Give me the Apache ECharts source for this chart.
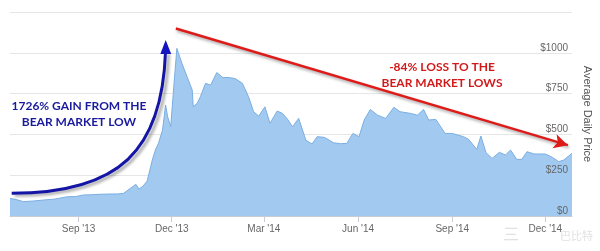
<!DOCTYPE html>
<html>
<head>
<meta charset="utf-8">
<script src="https://cdn.jsdelivr.net/npm/echarts@6/dist/echarts.min.js"></script>
<style>
html,body{margin:0;padding:0;background:#fff;}
#chart{width:600px;height:251px;}
</style>
</head>
<body>
<div id="chart"></div>
<script>
// ---- data ----
const dates = [
  '2013-06-26','2013-07-02','2013-07-09','2013-07-19','2013-07-29','2013-08-09','2013-08-21','2013-08-29',
  '2013-09-06','2013-09-14','2013-09-22','2013-10-02','2013-10-09','2013-10-15','2013-10-22','2013-10-27',
  '2013-10-30','2013-11-03','2013-11-07','2013-11-12','2013-11-15','2013-11-18','2013-11-22','2013-11-25',
  '2013-11-27','2013-11-30','2013-12-03','2013-12-06','2013-12-11','2013-12-16','2013-12-21','2013-12-22',
  '2013-12-26','2013-12-29','2014-01-03','2014-01-08','2014-01-14','2014-01-20','2014-01-25','2014-02-01',
  '2014-02-08','2014-02-14','2014-02-19','2014-02-24','2014-03-02','2014-03-07','2014-03-14','2014-03-19',
  '2014-03-24','2014-03-29','2014-04-04','2014-04-11','2014-04-17','2014-04-22','2014-04-29','2014-05-08',
  '2014-05-15','2014-05-21','2014-05-27','2014-06-02','2014-06-07','2014-06-13','2014-06-20','2014-06-28',
  '2014-07-06','2014-07-12','2014-07-22','2014-07-29','2014-08-04','2014-08-09','2014-08-16','2014-08-25',
  '2014-09-01','2014-09-12','2014-09-17','2014-09-25','2014-09-29','2014-10-04','2014-10-10','2014-10-17',
  '2014-10-23','2014-10-28','2014-11-03','2014-11-08','2014-11-13','2014-11-20','2014-12-01','2014-12-08',
  '2014-12-14','2014-12-19','2014-12-27'
];
const prices = [
  108,101,88,92,98,104,118,119,
  129,130,133,135,135,139,171,194,
  165,184,214,343,404,445,527,680,
  608,547,792,1027,935,853,772,669,
  692,731,813,802,879,848,849,842,
  813,731,639,612,669,568,643,629,
  594,547,598,465,441,486,482,449,
  443,445,506,486,588,653,618,598,
  666,639,629,618,653,588,592,506,
  506,486,470,408,490,388,353,390,
  374,404,347,347,394,380,380,359,
  333,343,384
];
const xTickDates = ['2013-09-01','2013-12-01','2014-03-01','2014-06-01','2014-09-01','2014-12-01'];
const xTickLabels = ["Sep '13","Dec '13","Mar '14","Jun '14","Sep '14","Dec '14"];
const yTickValues = [0,250,500,750,1000];
const yTickLabels = ['$0','$250','$500','$750','$1000'];
const axisTitle = 'Average Daily Price';
const gainText = ['1726% GAIN FROM THE','BEAR MARKET LOW'];
const lossText = ['-84% LOSS TO THE','BEAR MARKET LOWS'];
const lossLineStart = ['2013-12-05', 1149];
const lossLineEnd = ['2014-12-23', 434];
const axisMin = '2013-06-26';
const axisMax = '2014-12-27';

function ts(s){const p=s.split('-').map(Number);return Date.UTC(p[0],p[1]-1,p[2]);}
const seriesData = dates.map((d,i)=>[ts(d),prices[i]]);
const tickTs = xTickDates.map(ts);

const yBase = {type:'value',position:'right',min:0,max:1250,interval:250,
  axisLine:{show:false},axisTick:{show:false}};

const chart = echarts.init(document.getElementById('chart'), null, {renderer:'canvas'});
chart.setOption({
  animation:false,
  backgroundColor:'#ffffff',
  grid:{left:10,right:28,top:12,bottom:35,outerBoundsMode:'none'},
  xAxis:{
    type:'value',
    min:ts(axisMin), max:ts(axisMax),
    splitLine:{show:false},
    axisLine:{show:true,lineStyle:{color:'#c8ccd4',width:1}},
    axisTick:{show:true,length:6,lineStyle:{color:'#c8ccd4'},customValues:tickTs},
    axisLabel:{
      customValues:tickTs,
      color:'#666',fontSize:10,fontFamily:'Liberation Sans, Arial',margin:8,
      formatter:function(v){const i=tickTs.indexOf(v);return i>=0?xTickLabels[i]:'';}
    }
  },
  yAxis:[
    Object.assign({}, yBase, {
      name:axisTitle,nameLocation:'middle',nameRotate:-90,nameGap:10,
      nameTextStyle:{color:'#555',fontSize:11,fontFamily:'Liberation Sans, Arial'},
      splitLine:{show:true,lineStyle:{color:'#e6e6e6',width:1}},
      axisLabel:{show:false}
    }),
    Object.assign({}, yBase, {
      z:20,
      splitLine:{show:false},
      axisLabel:{
        inside:true,margin:4,color:'#666',fontSize:10,fontFamily:'Liberation Sans, Arial',
        verticalAlign:'bottom',lineHeight:10,
        formatter:function(v){const i=yTickValues.indexOf(v);return i>=0?yTickLabels[i]:'';}
      }
    })
  ],
  series:[{
    type:'line',data:seriesData,symbol:'none',yAxisIndex:0,
    lineStyle:{color:'#7aaee2',width:1},
    areaStyle:{color:'#a2caf0',opacity:1},
    emphasis:{disabled:true},
    markLine:{
      silent:true,symbol:['none','arrow'],symbolSize:[11,14],
      label:{show:false},
      lineStyle:{color:'#dd1c1a',width:2.5,type:'solid',shadowColor:'rgba(0,0,0,0.35)',shadowBlur:3,shadowOffsetX:1,shadowOffsetY:2},
      data:[[{coord:[ts(lossLineStart[0]),lossLineStart[1]]},{coord:[ts(lossLineEnd[0]),lossLineEnd[1]]}]]
    }
  }],
  graphic:[
    {type:'bezierCurve',z:100,
     shape:{x1:11.7,y1:193.3,cpx1:120,cpy1:193,cpx2:162,cpy2:150,x2:165.5,y2:52},
     style:{stroke:'#1414a6',lineWidth:3,fill:null,shadowColor:'rgba(0,0,0,0.35)',shadowBlur:3,shadowOffsetX:3,shadowOffsetY:2}},
    {type:'polygon',z:101,shape:{points:[[165.7,40],[160.3,54],[171.2,54]]},style:{fill:'#1414c0'}},
    {type:'text',z:102,x:79,y:106,style:{text:gainText[0],fill:'#1a1a9e',font:'bold 12px Lato',align:'center',verticalAlign:'middle'}},
    {type:'text',z:102,x:79,y:122,style:{text:gainText[1],fill:'#1a1a9e',font:'bold 12px Lato',align:'center',verticalAlign:'middle'}},
    {type:'text',z:102,x:442,y:67,style:{text:lossText[0],fill:'#d21a1a',font:'bold 12px Lato',align:'center',verticalAlign:'middle'}},
    {type:'text',z:102,x:442,y:83,style:{text:lossText[1],fill:'#d21a1a',font:'bold 12px Lato',align:'center',verticalAlign:'middle'}},
    {type:'text',z:-1,x:503,y:234,style:{text:'三',fill:'#e2e2e2',font:'16px "Noto Sans CJK SC"',verticalAlign:'middle'}},
    {type:'text',z:-1,x:560,y:236,style:{text:'巴比特',fill:'#e2e2e2',font:'11px "Noto Sans CJK SC"',verticalAlign:'middle'}}
  ]
});
</script>
</body>
</html>
